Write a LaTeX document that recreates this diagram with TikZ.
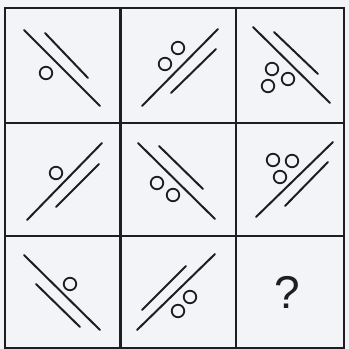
\documentclass[tikz,border=0pt]{standalone}
\usepackage{fontspec}
\setsansfont{Liberation Sans}
\usepackage{xcolor}
\usepackage{tikz}
\usetikzlibrary{positioning}
\definecolor{paper}{RGB}{242,244,247}
\definecolor{ink}{RGB}{30,30,32}
\tikzset{
  % --- grid ------------------------------------------------------------------
  gridline/.style={draw=ink,line width=2.4pt},
  % --- figures in the cells --------------------------------------------------
  bar/.style={draw=ink,line width=2pt,line cap=round},
  ring/.style={circle,draw=ink,line width=1.8pt,minimum size=12.5pt,
               inner sep=0pt},
  qmark/.style={font=\sffamily\fontsize{46}{46}\selectfont,text=ink,
                inner sep=0pt},
}

\begin{document}
\begin{tikzpicture}[x=1pt, y=-1pt]
  \useasboundingbox[fill=paper] (0,0) rectangle (349,349);

  % grid
  \draw[gridline] (5,8) rectangle (344,348);
  \draw[gridline] (120.5,8) -- (120.5,348);
  \draw[gridline] (236,8) -- (236,348);
  \draw[gridline] (5,123) -- (344,123);
  \draw[gridline] (5,236) -- (344,236);

  % row 1
  \draw[bar] (24,30) -- (100,106);
  \draw[bar] (45,33) -- (88,78);
  \node[ring] (c11a) at (46,73) {};

  \draw[bar] (142,106) -- (218,29);
  \draw[bar] (171,93) -- (216,49);
  \node[ring] (c12a) at (165,64) {};
  \node[ring] (c12b) at (178,48) {};

  \draw[bar] (253,27) -- (330,103);
  \draw[bar] (274,32) -- (318,74);
  \node[ring] (c13a) at (272,69) {};
  \node[ring] (c13b) at (288,79) {};
  \node[ring] (c13c) at (268,86) {};

  % row 2
  \draw[bar] (27,220) -- (102,143);
  \draw[bar] (56,207) -- (99,164);
  \node[ring] (c21a) at (56,173) {};

  \draw[bar] (138,143) -- (215,219);
  \draw[bar] (159,146) -- (203,189);
  \node[ring] (c22a) at (157,183) {};
  \node[ring] (c22b) at (173,195) {};

  \draw[bar] (256,217) -- (333,142);
  \draw[bar] (285,206) -- (328,162);
  \node[ring] (c23a) at (273,160) {};
  \node[ring] (c23b) at (292,161) {};
  \node[ring] (c23c) at (280,177) {};

  % row 3
  \draw[bar] (24,255) -- (100,330);
  \draw[bar] (36,284) -- (80,327);
  \node[ring] (c31a) at (70,284) {};

  \draw[bar] (137,330) -- (215,254);
  \draw[bar] (142,310) -- (186,266);
  \node[ring] (c32a) at (190,297) {};
  \node[ring] (c32b) at (178,311) {};

  \node[qmark] (q) at (287,292) {?};
\end{tikzpicture}
\end{document}
